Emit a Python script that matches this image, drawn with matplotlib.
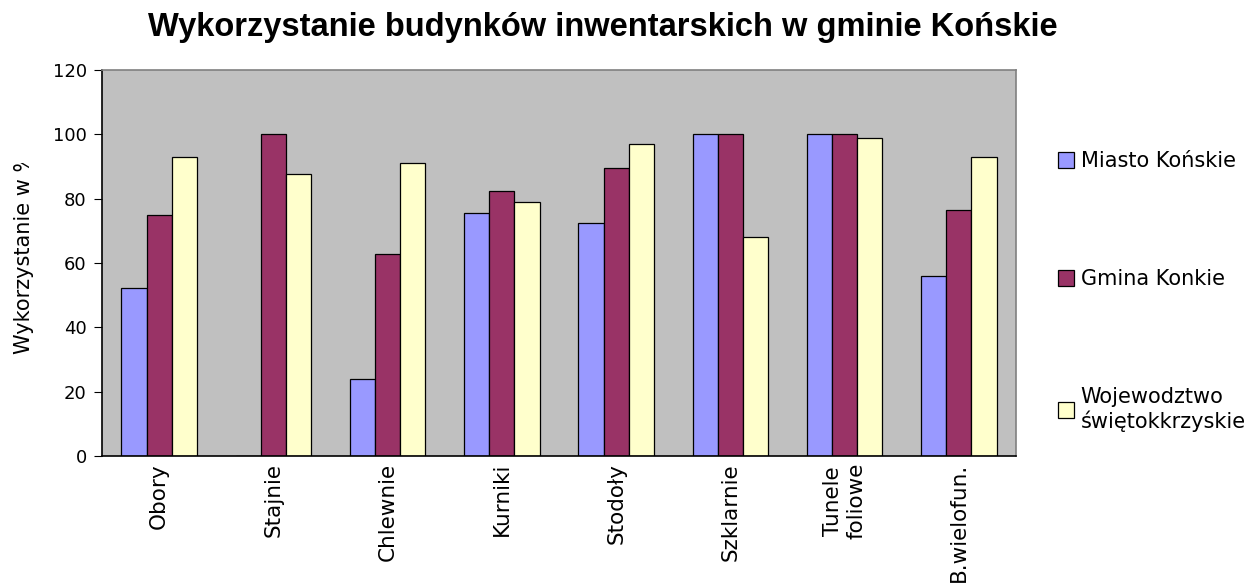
import matplotlib.pyplot as plt
import numpy as np
from matplotlib.transforms import Bbox, TransformedBbox

categories = ['Obory', 'Stajnie', 'Chlewnie', 'Kurniki', 'Stodoły',
              'Szklarnie', 'Tunele\nfoliowe', 'B.wielofun.']
series_names = ['Miasto Końskie', 'Gmina Konkie', 'Wojewodztwo\nświętokkrzyskie']
miasto = [52.3, 0, 24, 75.4, 72.5, 100, 100, 56]
gmina = [74.9, 100, 62.8, 82.5, 89.5, 100, 100, 76.5]
wojewodztwo = [92.8, 87.7, 91.2, 79, 97, 68, 98.8, 93]
colors = ['#9999FF', '#993366', '#FFFFCC']

plt.rcParams['font.family'] = ['DejaVu Sans']

fig = plt.figure(figsize=(12.53, 5.83), dpi=100)
ax = fig.add_axes([0.0814, 0.2178, 0.7295, 0.6622])
ax.set_facecolor('#C0C0C0')

x = np.arange(len(categories))
w = 0.22
for i, vals in enumerate([miasto, gmina, wojewodztwo]):
    ax.bar(x + (i - 1) * w, vals, w, color=colors[i], edgecolor='black',
           linewidth=0.9, label=series_names[i])

ax.set_xlim(-0.5, len(categories) - 0.5)
ax.set_ylim(0, 120)
ax.set_yticks(range(0, 121, 20))
ax.set_xticks(x)
ax.set_xticklabels(categories, rotation=90, fontsize=15.5, va='top')
ax.tick_params(axis='x', length=0, pad=5)
ax.tick_params(axis='y', direction='out', length=6, labelsize=13, pad=5)

for s in ['top', 'right']:
    ax.spines[s].set_color('#808080')
    ax.spines[s].set_linewidth(1.2)
for s in ['left', 'bottom']:
    ax.spines[s].set_color('black')
    ax.spines[s].set_linewidth(1.2)

ylab = ax.set_ylabel('Wykorzystanie w %', fontsize=15)
ax.yaxis.set_label_coords(-0.074, 0.527)
clip = TransformedBbox(Bbox.from_extents(0, 0, 1, 1 - 163 / 583), fig.transFigure)
ylab.set_clip_box(clip)
ylab.set_clip_on(True)

fig.text(0.481, 0.952, 'Wykorzystanie budynków inwentarskich w gminie Końskie',
         ha='center', va='center', fontsize=23.5, fontweight='bold',
         family='Liberation Sans')

leg = fig.legend(loc='upper left', bbox_to_anchor=(0.8375, 0.755),
                 frameon=False, fontsize=15, labelspacing=4.7,
                 handlelength=0.8, handleheight=0.8, handletextpad=0.3,
                 borderaxespad=0)

fig.savefig('out.png', dpi=100)
